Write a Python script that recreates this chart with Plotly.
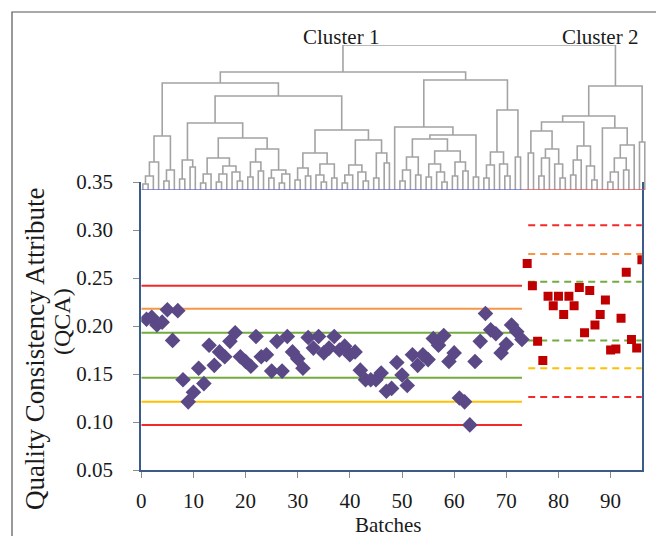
import plotly.graph_objects as go

# ---------------- data ----------------
# QCA values per batch, cluster 1 (batches 1-73) and cluster 2 (batches 74-96)
batches_c1 = list(range(1, 74))
qca_c1 = [0.207, 0.209, 0.201, 0.204, 0.217, 0.185, 0.216, 0.144, 0.121, 0.131,
          0.156, 0.140, 0.180, 0.159, 0.173, 0.168, 0.184, 0.193, 0.168, 0.163,
          0.158, 0.189, 0.168, 0.170, 0.153, 0.184, 0.153, 0.189, 0.173, 0.166,
          0.156, 0.188, 0.177, 0.189, 0.172, 0.177, 0.189, 0.175, 0.179, 0.170,
          0.173, 0.154, 0.144, 0.144, 0.144, 0.151, 0.132, 0.135, 0.162, 0.149,
          0.138, 0.170, 0.159, 0.170, 0.165, 0.187, 0.180, 0.190, 0.163, 0.172,
          0.125, 0.121, 0.097, 0.163, 0.184, 0.213, 0.196, 0.192, 0.172, 0.181,
          0.201, 0.194, 0.186]
batches_c2 = list(range(74, 97))
qca_c2 = [0.265, 0.242, 0.184, 0.164, 0.231, 0.221, 0.231, 0.212, 0.231, 0.221,
          0.240, 0.193, 0.237, 0.201, 0.212, 0.227, 0.175, 0.176, 0.208, 0.256,
          0.186, 0.177, 0.269]

# control limits (mean +/- 1, 2, 3 sigma) for each cluster
limits_c1 = [0.097, 0.121, 0.146, 0.193, 0.218, 0.242]
limits_c2 = [0.126, 0.156, 0.185, 0.246, 0.275, 0.305]
limit_colors = ["#F42A2A", "#FFC000", "#72AC3E", "#72AC3E", "#F79646", "#F42A2A"]
span_c1 = [0, 73]
span_c2 = [74.2, 96]

x_ticks = [0, 10, 20, 30, 40, 50, 60, 70, 80, 90]
y_ticks = [0.05, 0.10, 0.15, 0.20, 0.25, 0.30, 0.35]

# hierarchical clustering tree: [merge distance, left, right]; 0 = leaf
tree_c1 = [11.8,
           [10.7,
            [5.4, [2.8, [1.4, [0.6, 0, 0], 0], 0], [2.0, [0.9, 0, 0], 0]],
            [9.4,
             [6.7,
              [3.0, [1.1, 0, 0], [2.3, 0, 0]],
              [5.2,
               [3.2, [1.6, [0.7, 0, 0], 0],
                [2.4, [1.6, [0.8, 0, 0], 0], [1.8, 0, [0.9, 0, 0]]]],
               [4.1, [2.8, [1.3, 0, 0], [1.9, 0, 0]],
                [2.0, [1.2, 0, 0], [1.6, [0.7, 0, 0], 0]]]]],
             [6.0,
              [3.7, [2.2, [1.0, 0, 0], [1.4, 0, 0]],
               [2.6, [1.5, 0, [0.8, 0, 0]], [1.2, 0, 0]]],
              [5.0, [2.5, [1.5, [0.7, 0, 0], 0], [1.8, 0, [0.9, 0, 0]]],
               [3.7, [1.2, 0, 0], [2.7, 0, 0]]]]]],
           [11.0,
            [6.3, 0,
             [5.5,
              [5.1,
               [3.3, [2.0, [0.9, 0, 0], 0], [1.5, 0, 0]],
               [3.9, [2.6, [1.3, 0, 0], [1.8, 0, [0.8, 0, 0]]],
                [2.8, [1.4, 0, 0], [1.9, 0, 0]]]],
              [1.3, 0, 0]]],
            [8.0,
             [3.8, [2.5, [1.2, 0, 0], 0], [2.6, 0, [1.4, 0, 0]]],
             [3.3, 0, 0]]]]
tree_c2 = [10.4,
           [7.4,
            [6.8,
             [5.9, [3.7, 0, 0],
              [4.1, [3.2, [1.4, 0, 0], 0], [2.6, 0, [1.2, 0, 0]]]],
             [4.4, [3.0, [1.5, 0, 0], 0], [2.4, 0, [1.0, 0, 0]]]],
            [6.2, 0,
             [4.5, [3.2, [1.8, [0.8, 0, 0], 0], [2.0, 0, 0]], 0]]],
           [4.8, 0, 0]]
root_height = 14.5

# ---------------- dendrogram geometry ----------------
n1, n2 = 73, 23
leaf_x = [0.3 + 1.006 * i for i in range(n1)] + [74.2 + 1.016 * j for j in range(n2)]

seg_x, seg_y = [], []
counter = [0]


def place(node):
    if node == 0:
        x = leaf_x[counter[0]]
        counter[0] += 1
        return x, 0.0
    d, a, b = node
    xa, ha = place(a)
    xb, hb = place(b)
    seg_x.extend([xa, xa, xb, xb, None])
    seg_y.extend([ha, d, d, hb, None])
    return (xa + xb) / 2, d


root = [root_height, tree_c1, tree_c2]
place(root)

# ---------------- figure ----------------
W, H = 656, 536
FONT = "Liberation Serif, Times New Roman, serif"


def fx(p):
    return p / W


def fy(p):
    return (H - p) / H


def label(text, x, y, size=21, angle=0):
    return dict(text=text, x=fx(x), y=fy(y), xref="paper", yref="paper",
                xanchor="center", yanchor="middle", textangle=angle,
                showarrow=False, font=dict(family=FONT, size=size, color="#1a1a1a"))


fig = go.Figure()

# control limit lines
for v, c in zip(limits_c1, limit_colors):
    fig.add_trace(go.Scatter(x=span_c1, y=[v, v], mode="lines",
                             line=dict(color=c, width=2), hoverinfo="skip"))
for v, c in zip(limits_c2, limit_colors):
    fig.add_trace(go.Scatter(x=span_c2, y=[v, v], mode="lines",
                             line=dict(color=c, width=2, dash="7px,5px"),
                             hoverinfo="skip"))

# batch QCA markers
fig.add_trace(go.Scatter(x=batches_c1, y=qca_c1, mode="markers",
                         marker=dict(symbol="diamond", size=12, color="#5B4886")))
fig.add_trace(go.Scatter(x=batches_c2, y=qca_c2, mode="markers",
                         marker=dict(symbol="square", size=9, color="#C00000")))

# dendrogram links
fig.add_trace(go.Scatter(x=seg_x, y=seg_y, mode="lines", xaxis="x2", yaxis="y2",
                         line=dict(color="#A3A3A3", width=1.6), hoverinfo="skip"))
# cluster baselines
split = (leaf_x[n1 - 1] + leaf_x[n1]) / 2
fig.add_trace(go.Scatter(x=[leaf_x[0] - 0.3, split], y=[0, 0],
                         mode="lines", xaxis="x2", yaxis="y2",
                         line=dict(color="#6B6BD8", width=1.6), hoverinfo="skip"))
fig.add_trace(go.Scatter(x=[split, leaf_x[-1]], y=[0, 0],
                         mode="lines", xaxis="x2", yaxis="y2",
                         line=dict(color="#E05555", width=1.6), hoverinfo="skip"))

x_left, x_right = 141.3, 641.9
y_bottom, y_top = 470, 182
unit = (x_right - x_left) / 96

fig.update_layout(
    width=W, height=H, autosize=False,
    margin=dict(l=0, r=0, t=0, b=0, pad=0, autoexpand=False),
    paper_bgcolor="white", plot_bgcolor="rgba(0,0,0,0)",
    showlegend=False,
    font=dict(family=FONT, size=21, color="#1a1a1a"),
    xaxis=dict(domain=[fx(x_left), fx(x_right)], range=[0, 96],
               tickvals=x_ticks, ticks="outside", ticklen=6, tickcolor="#8a8a8a",
               showline=True, linecolor="#3B5C88", linewidth=2,
               showgrid=False, zeroline=False, ticklabelstandoff=5,
               automargin=False,
               tickfont=dict(family=FONT, size=21, color="#1a1a1a")),
    yaxis=dict(domain=[fy(y_bottom), fy(y_top)], range=[0.05, 0.35],
               tickvals=y_ticks, tickformat=".2f", ticks="outside", ticklen=6,
               tickcolor="#8a8a8a", showline=True, mirror=True,
               linecolor="#3B5C88", linewidth=2,
               showgrid=False, zeroline=False, ticklabelstandoff=16,
               automargin=False,
               tickfont=dict(family=FONT, size=21, color="#1a1a1a")),
    xaxis2=dict(domain=[fx(x_left), fx(x_left + 97 * unit)], range=[0, 97],
                visible=False, anchor="y2", automargin=False),
    yaxis2=dict(domain=[fy(190), fy(45)], range=[0, root_height],
                visible=False, anchor="x2", automargin=False),
    annotations=[
        label("Cluster 1", 341, 37),
        label("Cluster 2", 600, 37),
        label("Batches", 388, 525),
        label("Quality Consistency Attribute", 35, 349, size=27, angle=-90),
        label("(QCA)", 62, 322, size=24, angle=-90),
    ],
    shapes=[
        dict(type="rect", xref="paper", yref="paper",
             x0=fx(12), x1=fx(W + 10), y0=fy(H + 10), y1=fy(12),
             line=dict(color="#555555", width=1.2), fillcolor="rgba(0,0,0,0)",
             layer="below"),
    ],
)

fig.write_html("out.html")
